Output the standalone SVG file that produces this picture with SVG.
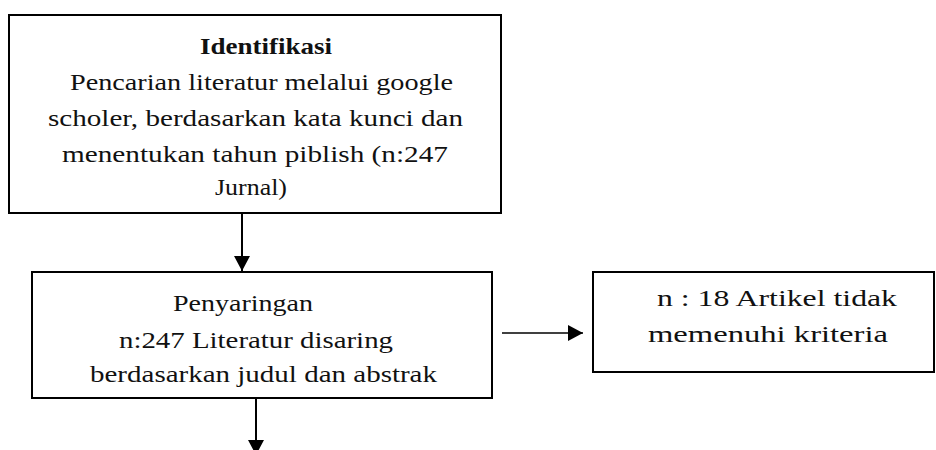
<svg xmlns="http://www.w3.org/2000/svg" width="936" height="450" viewBox="0 0 936 450">
<style>
.box{fill:#fff;stroke:#000;stroke-width:2}
.t{font-family:'Liberation Serif','Times New Roman',Times,serif;font-size:24px;fill:#111}
.b{font-weight:bold}
.conn{stroke:#000;stroke-width:2;fill:none}
.thin{stroke-width:1.6}
</style>
<defs>
<marker id="ah" markerUnits="userSpaceOnUse" markerWidth="16" markerHeight="16" viewBox="0 0 16 16" refX="15" refY="8" orient="auto">
<path d="M0,0 L15,8 L0,16 Z" fill="#000"/>
</marker>
</defs>
<rect width="936" height="450" fill="#fff"/>
<g id="connectors">
<line class="conn" x1="242" y1="213" x2="242" y2="271" marker-end="url(#ah)"/>
<line class="conn" x1="256" y1="398" x2="256" y2="455" marker-end="url(#ah)"/>
<line class="conn thin" x1="502" y1="333" x2="583" y2="333" marker-end="url(#ah)"/>
</g>
<g id="identifikasi">
<rect class="box" x="9" y="15" width="492" height="198"/>
<text class="t b" x="200" y="54" textLength="132" lengthAdjust="spacingAndGlyphs">Identifikasi</text>
<text class="t" x="70" y="90" textLength="383" lengthAdjust="spacingAndGlyphs">Pencarian literatur melalui google</text>
<text class="t" x="48" y="126" textLength="415" lengthAdjust="spacingAndGlyphs">scholer, berdasarkan kata kunci dan</text>
<text class="t" x="62" y="162" textLength="386" lengthAdjust="spacingAndGlyphs">menentukan tahun piblish (n:247</text>
<text class="t" x="215" y="195" textLength="72" lengthAdjust="spacingAndGlyphs">Jurnal)</text>
</g>
<g id="penyaringan">
<rect class="box" x="32" y="272" width="460" height="126"/>
<text class="t" x="173" y="311" textLength="140" lengthAdjust="spacingAndGlyphs">Penyaringan</text>
<text class="t" x="119" y="348" textLength="274" lengthAdjust="spacingAndGlyphs">n:247 Literatur disaring</text>
<text class="t" x="90" y="382" textLength="347" lengthAdjust="spacingAndGlyphs">berdasarkan judul dan abstrak</text>
</g>
<g id="excluded">
<rect class="box" x="593" y="272" width="341" height="100"/>
<text class="t" x="657" y="306" textLength="240" lengthAdjust="spacingAndGlyphs" font-size="25">n : 18 Artikel tidak</text>
<text class="t" x="648" y="342" textLength="240" lengthAdjust="spacingAndGlyphs" font-size="25">memenuhi kriteria</text>
</g>
</svg>
